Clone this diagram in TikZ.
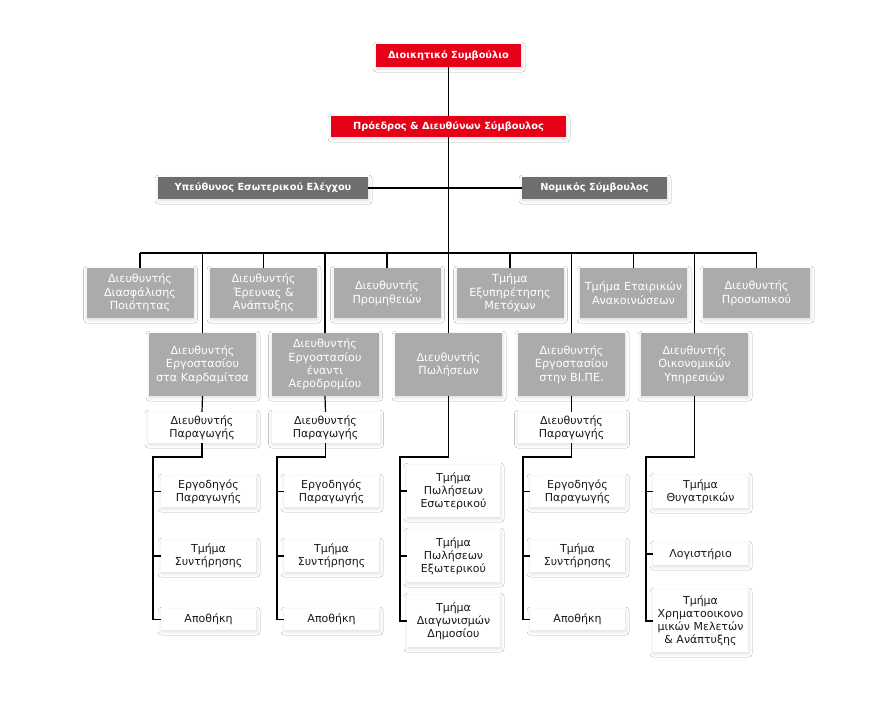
\documentclass[tikz,border=0pt]{standalone}
\usepackage{fontspec}
\setmainfont{DejaVu Sans}
\usetikzlibrary{shadows.blur}
\definecolor{cred}{RGB}{230,0,24}
\definecolor{cdark}{RGB}{110,110,110}
\definecolor{clight}{RGB}{171,171,171}
\definecolor{ctext}{RGB}{25,25,25}
\begin{document}
\begin{tikzpicture}[x=1pt,y=-1pt,
  base/.style={rectangle, inner sep=0pt, align=center,
    blur shadow={shadow xshift=0.6pt,shadow yshift=-1.6pt,shadow blur radius=3.5pt,shadow blur steps=8,shadow opacity=14}},
  redbox/.style={base, fill=cred, text=white, font=\fontsize{9.8}{12}\selectfont\bfseries},
  darkbox/.style={base, fill=cdark, text=white, font=\fontsize{9.8}{12}\selectfont\bfseries},
  greybox/.style={base, fill=clight, text=white, minimum width=107pt, font=\fontsize{11.2}{13.4}\selectfont},
  whitebox/.style={base, fill=white, text=ctext, font=\fontsize{11}{13}\selectfont},
  conn/.style={draw=black, line width=1.2pt}]
\useasboundingbox[fill=white] (0,0) rectangle (896,708);

% top
\node[redbox, minimum width=145pt, minimum height=23pt] (board) at (448.5,55.5) {Διοικητικό Συμβούλιο};
\node[redbox, minimum width=235pt, minimum height=21pt] (ceo) at (448.5,126.5) {Πρόεδρος \& Διευθύνων Σύμβουλος};
\node[darkbox, minimum width=210pt, minimum height=22pt] (audit) at (263,188) {Υπεύθυνος Εσωτερικού Ελέγχου};
\node[darkbox, minimum width=145pt, minimum height=22pt] (legal) at (594.5,188) {Νομικός Σύμβουλος};

% row 1
\node[greybox, minimum height=50pt] (ra) at (140,293) {Διευθυντής\\Διασφάλισης\\Ποιότητας};
\node[greybox, minimum height=50pt] (rb) at (263.5,293) {Διευθυντής\\Έρευνας \&\\Ανάπτυξης};
\node[greybox, minimum height=50pt] (rc) at (387,293) {Διευθυντής\\Προμηθειών};
\node[greybox, minimum height=50pt] (rd) at (510,293) {Τμήμα\\Εξυπηρέτησης\\Μετόχων};
\node[greybox, minimum height=50pt] (re) at (633.5,293) {Τμήμα Εταιρικών\\Ανακοινώσεων};
\node[greybox, minimum height=50pt] (rf) at (756.5,293) {Διευθυντής\\Προσωπικού};

% row 2
\node[greybox, minimum height=63pt] (fa) at (202.5,364.5) {Διευθυντής\\Εργοστασίου\\στα Καρδαμίτσα};
\node[greybox, minimum height=63pt] (fb) at (325,364.5) {Διευθυντής\\Εργοστασίου\\έναντι\\Αεροδρομίου};
\node[greybox, minimum height=63pt] (sales) at (448.5,364.5) {Διευθυντής\\Πωλήσεων};
\node[greybox, minimum height=63pt] (fd) at (571.5,364.5) {Διευθυντής\\Εργοστασίου\\στην ΒΙ.ΠΕ.};
\node[greybox, minimum height=63pt] (fin) at (694.5,364.5) {Διευθυντής\\Οικονομικών\\Υπηρεσιών};

% production managers
\node[whitebox, minimum width=108pt, minimum height=31pt] (pa) at (202,427.5) {Διευθυντής\\Παραγωγής};
\node[whitebox, minimum width=108pt, minimum height=31pt] (pb) at (325.5,427.5) {Διευθυντής\\Παραγωγής};
\node[whitebox, minimum width=108pt, minimum height=31pt] (pd) at (571.5,427.5) {Διευθυντής\\Παραγωγής};

% factory children
\foreach \c/\x in {a/208.5, b/331.5, d/577.5}{
  \node[whitebox, minimum width=95pt, minimum height=31pt] (e\c) at (\x,491.5) {Εργοδηγός\\Παραγωγής};
  \node[whitebox, minimum width=95pt, minimum height=32pt] (m\c) at (\x,556) {Τμήμα\\Συντήρησης};
  \node[whitebox, minimum width=95pt, minimum height=21pt] (w\c) at (\x,619.5) {Αποθήκη};
}

% sales children
\node[whitebox, minimum width=93pt, minimum height=52pt] (s1) at (453.5,491) {Τμήμα\\Πωλήσεων\\Εσωτερικού};
\node[whitebox, minimum width=93pt, minimum height=52pt] (s2) at (453.5,556) {Τμήμα\\Πωλήσεων\\Εξωτερικού};
\node[whitebox, minimum width=93pt, minimum height=52pt] (s3) at (453.5,621) {Τμήμα\\Διαγωνισμών\\Δημοσίου};

% finance children
\node[whitebox, minimum width=95pt, minimum height=33pt] (f1) at (700.5,491.5) {Τμήμα\\Θυγατρικών};
\node[whitebox, minimum width=95pt, minimum height=22pt] (f2) at (700.5,554) {Λογιστήριο};
\node[whitebox, minimum width=95pt, minimum height=62pt] (f3) at (700.5,621) {Τμήμα\\Χρηματοοικονο\\μικών Μελετών\\\& Ανάπτυξης};

% coordinates
\coordinate (busL) at (140,253);
\coordinate (busR) at (756.5,253);
\coordinate (ja) at (153,457);
\coordinate (jb) at (277,457);
\coordinate (jc) at (400,457);
\coordinate (jd) at (523,457);
\coordinate (je) at (646,457);

% connectors
\draw[conn] (board.south) -- (ceo.north);
\draw[conn] (ceo.south) -- (sales.north);
\draw[conn] (audit.east) -- (legal.west);
\draw[conn] (busL) -- (busR);
\foreach \n in {ra,rb,rc,rd,re,rf,fa,fb,fd,fin}{
  \draw[conn] (\n.north) -- (\n.north |- busL);
}
\draw[conn] (fa.south) -- (pa.north);
\draw[conn] (fb.south) -- (pb.north);
\draw[conn] (fd.south) -- (pd.north);

\foreach \c in {a,b,d}{
  \draw[conn] (p\c.south) |- (j\c) -- (j\c |- w\c.west) -- (w\c.west);
  \draw[conn] (j\c |- e\c.west) -- (e\c.west);
  \draw[conn] (j\c |- m\c.west) -- (m\c.west);
}
\draw[conn] (sales.south) |- (jc) -- (jc |- s3.west) -- (s3.west);
\draw[conn] (jc |- s1.west) -- (s1.west);
\draw[conn] (jc |- s2.west) -- (s2.west);
\draw[conn] (fin.south) |- (je) -- (je |- f3.west) -- (f3.west);
\draw[conn] (je |- f1.west) -- (f1.west);
\draw[conn] (je |- f2.west) -- (f2.west);
\end{tikzpicture}
\end{document}
